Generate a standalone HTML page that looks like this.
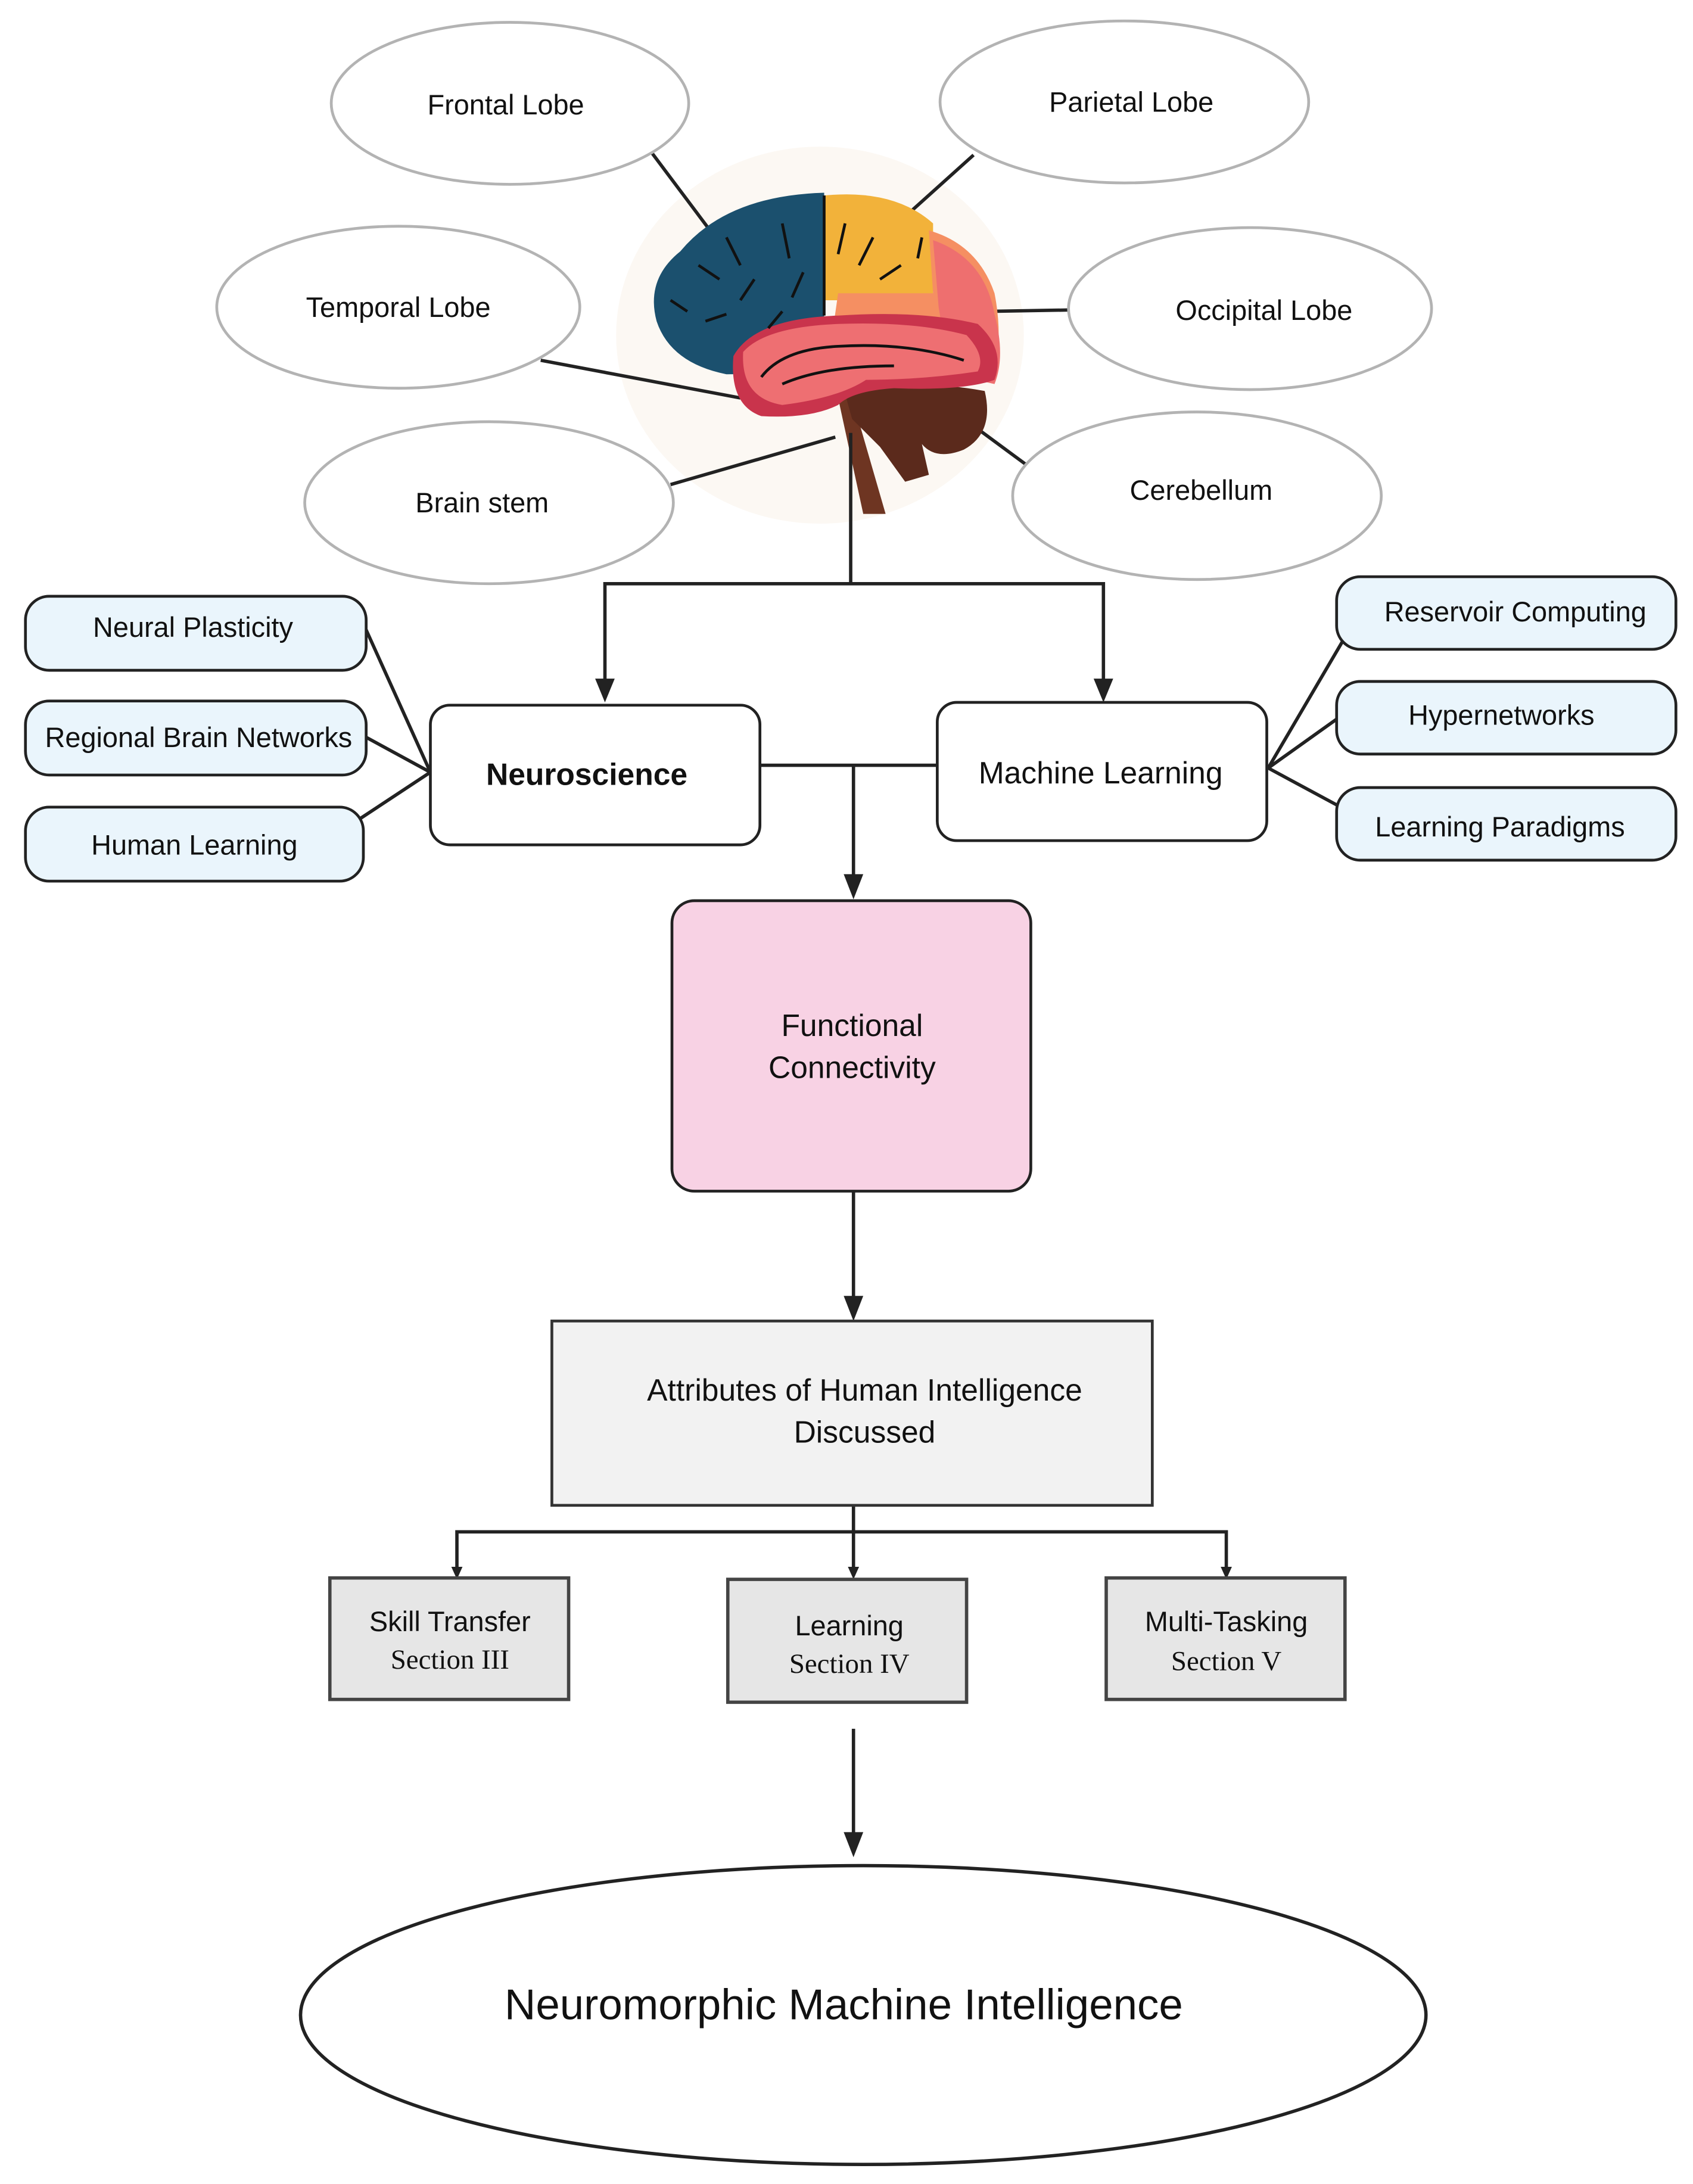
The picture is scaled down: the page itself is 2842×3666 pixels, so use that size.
<!DOCTYPE html>
<html><head><style>html,body{margin:0;padding:0;background:#fff}svg{display:block}</style></head>
<body>
<svg width="2842" height="3666" viewBox="0 0 1212 1564" xmlns="http://www.w3.org/2000/svg" font-family="Liberation Sans, sans-serif">
<rect width="1212" height="1564" fill="#fff"/>
<!-- brain background -->
<ellipse cx="587" cy="240" rx="146" ry="135" fill="#fcf8f3"/>
<!-- connectors to ellipses -->
<g stroke="#222" stroke-width="2.4" fill="none">
<line x1="467" y1="110" x2="509" y2="166"/>
<line x1="697" y1="111" x2="647" y2="156"/>
<line x1="765" y1="222" x2="707" y2="223"/>
<line x1="387" y1="258" x2="530" y2="285"/>
<line x1="480" y1="347" x2="598" y2="313"/>
<line x1="735" y1="333" x2="693" y2="302"/>
</g>
<!-- brain -->
<g>
<path d="M600 285 L618 368 L634 368 L610 285 Z" fill="#6e3522"/>
<path d="M605 282 Q650 270 705 280 Q712 310 690 322 Q670 330 660 318 L665 340 L648 345 L630 320 L610 300 Z" fill="#5b2a1c"/>
<path d="M487 180 Q520 140 590 138 L590 262 Q560 268 520 268 Q480 260 470 230 Q462 200 487 180 Z" fill="#1b506e"/>
<path d="M590 140 Q640 135 668 160 L668 215 L590 215 Z" fill="#f2b23a"/>
<path d="M600 210 L668 210 L665 165 Q700 175 712 210 Q718 240 712 270 L640 262 L595 245 Z" fill="#f58f62"/>
<path d="M668 172 Q705 185 712 225 Q720 255 712 275 L680 268 L672 220 Z" fill="#ee6f6f"/>
<path d="M525 255 Q540 228 600 226 Q660 222 700 232 Q720 250 712 272 Q690 280 640 278 Q610 280 600 290 Q580 300 545 298 Q522 290 525 255 Z" fill="#c9344c"/>
<path d="M532 252 Q548 234 600 232 Q655 230 692 240 Q706 255 700 266 Q660 272 620 272 Q600 285 560 290 Q530 285 532 252 Z" fill="#ee6f72"/>
<g stroke="#111" stroke-width="2" fill="none">
<path d="M545 270 Q560 250 600 248 Q650 245 690 258"/>
<path d="M560 275 Q590 262 640 262"/>
<line x1="590" y1="140" x2="590" y2="226"/>
<path d="M500 190 l15 10 M520 170 l10 20 M540 200 l-10 15 M560 160 l5 25 M505 230 l15 -5 M480 215 l12 8 M550 235 l10 -12 M575 195 l-8 18"/>
<path d="M605 160 l-5 22 M625 170 l-10 20 M645 190 l-15 10 M660 170 l-3 15"/>
</g>
</g>
<!-- ellipses -->
<g fill="#fff" stroke="#b3b3b3" stroke-width="2">
<ellipse cx="365" cy="74" rx="128" ry="58"/>
<ellipse cx="805" cy="73" rx="132" ry="58"/>
<ellipse cx="285" cy="220" rx="130" ry="58"/>
<ellipse cx="895" cy="221" rx="130" ry="58"/>
<ellipse cx="350" cy="360" rx="132" ry="58"/>
<ellipse cx="857" cy="355" rx="132" ry="60"/>
</g>
<g font-size="20" fill="#111" text-anchor="middle">
<text x="362" y="82">Frontal Lobe</text>
<text x="810" y="80">Parietal Lobe</text>
<text x="285" y="227">Temporal Lobe</text>
<text x="905" y="229">Occipital Lobe</text>
<text x="345" y="367">Brain stem</text>
<text x="860" y="358">Cerebellum</text>
</g>
<!-- main connectors -->
<g stroke="#222" stroke-width="2.4" fill="none">
<polyline points="609,310 609,418"/>
<polyline points="433,490 433,418 790,418 790,490"/>
<line x1="544" y1="548" x2="671" y2="548"/>
<line x1="611" y1="548" x2="611" y2="630"/>
<line x1="611" y1="853" x2="611" y2="932"/>
<line x1="611" y1="1238" x2="611" y2="1316"/>
<polyline points="611,1078 611,1097"/>
<polyline points="327,1124 327,1097 878,1097 878,1124"/>
<line x1="611" y1="1097" x2="611" y2="1124"/>
<line x1="257" y1="440" x2="308" y2="553"/>
<line x1="262" y1="528" x2="308" y2="553"/>
<line x1="255" y1="588" x2="308" y2="553"/>
<line x1="962" y1="458" x2="908" y2="550"/>
<line x1="957" y1="515" x2="908" y2="550"/>
<line x1="960" y1="578" x2="908" y2="550"/>
</g>
<g fill="#222">
<path d="M426 486 L440 486 L433 503 Z"/>
<path d="M783 486 L797 486 L790 503 Z"/>
<path d="M604 626 L618 626 L611 644 Z"/>
<path d="M604 928 L618 928 L611 946 Z"/>
<path d="M604 1312 L618 1312 L611 1330 Z"/>
<path d="M323 1122 L331 1122 L327 1131 Z"/>
<path d="M607 1122 L615 1122 L611 1131 Z"/>
<path d="M874 1122 L882 1122 L878 1131 Z"/>
</g>
<!-- pills -->
<g fill="#eaf5fc" stroke="#222" stroke-width="2">
<rect x="18" y="427" width="244" height="53" rx="17"/>
<rect x="18" y="502" width="244" height="53" rx="17"/>
<rect x="18" y="578" width="242" height="53" rx="17"/>
<rect x="957" y="413" width="243" height="52" rx="17"/>
<rect x="957" y="488" width="243" height="52" rx="17"/>
<rect x="957" y="564" width="243" height="52" rx="17"/>
</g>
<g font-size="20" fill="#111" text-anchor="middle">
<text x="138" y="456">Neural Plasticity</text>
<text x="142" y="535">Regional Brain Networks</text>
<text x="139" y="612">Human Learning</text>
<text x="1085" y="445">Reservoir Computing</text>
<text x="1075" y="519">Hypernetworks</text>
<text x="1074" y="599">Learning Paradigms</text>
</g>
<!-- main boxes -->
<rect x="308" y="505" width="236" height="100" rx="14" fill="#fff" stroke="#222" stroke-width="2"/>
<rect x="671" y="503" width="236" height="99" rx="14" fill="#fff" stroke="#222" stroke-width="2"/>
<text x="420" y="562" font-size="22" font-weight="bold" text-anchor="middle" fill="#111">Neuroscience</text>
<text x="788" y="561" font-size="22" text-anchor="middle" fill="#111">Machine Learning</text>
<rect x="481" y="645" width="257" height="208" rx="16" fill="#f8d2e4" stroke="#222" stroke-width="2"/>
<text x="610" y="742" font-size="22" text-anchor="middle" fill="#111">Functional</text>
<text x="610" y="772" font-size="22" text-anchor="middle" fill="#111">Connectivity</text>
<rect x="395" y="946" width="430" height="132" fill="#f2f2f2" stroke="#333" stroke-width="2"/>
<text x="619" y="1003" font-size="22" text-anchor="middle" fill="#111">Attributes of Human Intelligence</text>
<text x="619" y="1033" font-size="22" text-anchor="middle" fill="#111">Discussed</text>
<g fill="#e6e6e6" stroke="#444" stroke-width="2.4">
<rect x="236" y="1130" width="171" height="87"/>
<rect x="521" y="1131" width="171" height="88"/>
<rect x="792" y="1130" width="171" height="87"/>
</g>
<g font-size="20" fill="#111" text-anchor="middle">
<text x="322" y="1168">Skill Transfer</text>
<text x="608" y="1171">Learning</text>
<text x="878" y="1168">Multi-Tasking</text>
</g>
<g font-size="20" fill="#111" text-anchor="middle" font-family="Liberation Serif, serif">
<text x="322" y="1195">Section III</text>
<text x="608" y="1198">Section IV</text>
<text x="878" y="1196">Section V</text>
</g>
<ellipse cx="618" cy="1443" rx="403" ry="107" fill="#fff" stroke="#222" stroke-width="2.4"/>
<text x="604" y="1446" font-size="31" text-anchor="middle" fill="#111">Neuromorphic Machine Intelligence</text>
</svg>
</body></html>
